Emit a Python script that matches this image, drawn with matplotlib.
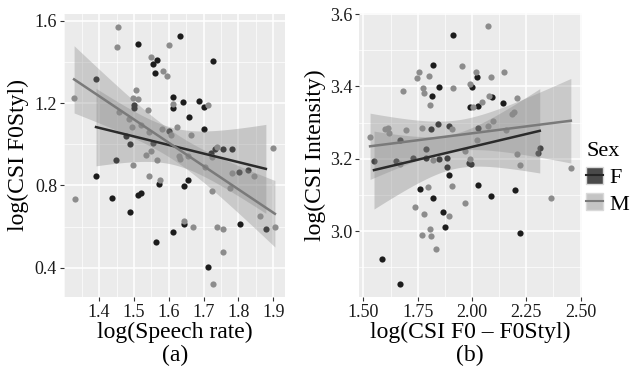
import numpy as np
import matplotlib.pyplot as plt
from matplotlib.patches import Patch
from matplotlib.lines import Line2D
from matplotlib.ticker import MultipleLocator

plt.rcParams['font.family'] = ['Liberation Serif', 'DejaVu Serif']

# panel (a): log(Speech rate) vs log(CSI F0Styl)
a_f_x = [1.633, 1.511, 1.727, 1.565, 1.554, 1.560, 1.391, 1.611, 1.642, 1.688, 1.700, 1.611, 1.499, 1.499,
         1.657, 1.701, 1.601, 1.477, 1.490, 1.556, 1.449, 1.391, 1.732, 1.757, 1.782, 1.721, 1.803, 1.827,
         1.572, 1.656, 1.643, 1.438, 1.512, 1.520, 1.489, 1.644, 1.613, 1.804, 1.879, 1.562, 1.713]
a_f_y = [1.527, 1.487, 1.406, 1.409, 1.388, 1.346, 1.317, 1.229, 1.205, 1.211, 1.180, 1.174, 1.190, 1.174,
         1.134, 1.075, 1.064, 1.038, 0.999, 1.007, 0.921, 0.845, 0.977, 0.977, 0.977, 0.955, 0.863, 0.873,
         0.809, 0.824, 0.795, 0.740, 0.754, 0.761, 0.669, 0.610, 0.575, 0.610, 0.589, 0.523, 0.404]
a_m_x = [1.455, 1.450, 1.601, 1.548, 1.584, 1.594, 1.328, 1.507, 1.496, 1.513, 1.613, 1.541, 1.457, 1.487,
         1.493, 1.520, 1.543, 1.581, 1.623, 1.606, 1.663, 1.714, 1.550, 1.535, 1.565, 1.497, 1.542, 1.576,
         1.628, 1.632, 1.655, 1.704, 1.725, 1.738, 1.723, 1.777, 1.783, 1.844, 1.861, 1.905, 1.900, 1.331,
         1.645, 1.671, 1.738, 1.757, 1.756, 1.727]
a_m_y = [1.571, 1.474, 1.483, 1.422, 1.357, 1.331, 1.224, 1.266, 1.224, 1.219, 1.197, 1.166, 1.156, 1.122,
         1.082, 1.093, 1.061, 1.074, 1.085, 1.045, 1.043, 1.190, 0.968, 0.949, 0.921, 0.900, 0.847, 0.824,
         0.942, 0.929, 0.944, 0.889, 0.939, 0.985, 0.774, 0.786, 0.860, 0.844, 0.651, 0.597, 0.983, 0.733,
         0.626, 0.599, 0.597, 0.589, 0.476, 0.319]

# panel (b): log(CSI F0 - F0Styl) vs log(CSI Intensity)
b_f_x = [1.911, 1.822, 2.025, 1.847, 1.999, 1.818, 2.094, 2.144, 1.993, 2.030, 1.813, 1.844, 1.893, 2.027,
         1.787, 1.729, 1.648, 1.549, 1.789, 1.848, 1.885, 1.883, 1.892, 1.987, 1.996, 2.027, 1.763, 1.822,
         2.088, 2.199, 1.866, 1.877, 2.223, 1.584, 1.670, 2.304, 2.312, 1.671]
b_f_y = [3.542, 3.459, 3.425, 3.399, 3.399, 3.374, 3.371, 3.355, 3.343, 3.345, 3.283, 3.297, 3.291, 3.285,
         3.227, 3.202, 3.195, 3.194, 3.203, 3.200, 3.203, 3.177, 3.155, 3.188, 3.185, 3.128, 3.118, 3.092,
         3.097, 3.113, 3.052, 3.011, 2.996, 2.924, 2.854, 3.217, 3.230, 3.251]
b_m_x = [2.076, 1.953, 1.757, 1.749, 1.802, 1.776, 1.778, 1.683, 1.807, 1.912, 1.992, 2.019, 2.089, 2.149,
         2.005, 2.048, 2.077, 2.207, 2.184, 2.193, 2.098, 2.074, 2.156, 1.909, 1.770, 1.613, 1.598, 1.619,
         1.531, 1.696, 2.025, 1.970, 1.992, 1.671, 1.819, 2.205, 2.223, 1.906, 1.796, 1.970, 1.738, 1.778,
         1.895, 1.807, 1.772, 1.810, 1.833, 2.364, 2.455]
b_m_y = [3.566, 3.456, 3.439, 3.422, 3.428, 3.396, 3.381, 3.387, 3.348, 3.396, 3.408, 3.439, 3.427, 3.439,
         3.343, 3.357, 3.373, 3.368, 3.325, 3.329, 3.304, 3.290, 3.279, 3.283, 3.286, 3.284, 3.282, 3.271,
         3.259, 3.281, 3.252, 3.222, 3.200, 3.185, 3.198, 3.214, 3.182, 3.124, 3.121, 3.077, 3.066, 3.047,
         3.042, 3.006, 2.990, 2.987, 2.950, 3.092, 3.175]

point_col = {'F': '#1c1c1c', 'M': '#8c8c8c'}
line_col = {'F': '#2b2b2b', 'M': '#7a7a7a'}
band_col = {'F': '#868686', 'M': '#8e8e8e'}


def lm_band(x, y, n_pts=80):
    # linear fit with 95% confidence band, like geom_smooth(method = "lm")
    x = np.asarray(x); y = np.asarray(y)
    n = len(x)
    b, a = np.polyfit(x, y, 1)
    resid = y - (a + b*x)
    s = np.sqrt(np.sum(resid**2)/(n - 2))
    sxx = np.sum((x - x.mean())**2)
    df = n - 2
    z = 1.959964
    t = z + (z**3 + z)/(4*df) + (5*z**5 + 16*z**3 + 3*z)/(96*df**2)
    xx = np.linspace(x.min(), x.max(), n_pts)
    yy = a + b*xx
    se = s*np.sqrt(1.0/n + (xx - x.mean())**2/sxx)
    return xx, yy, yy - t*se, yy + t*se


def panel(ax, fx, fy, mx, my):
    ax.set_facecolor('#ebebeb')
    for sp in ax.spines.values():
        sp.set_visible(False)
    ax.grid(which='major', color='white', lw=1.1, zorder=0)
    ax.grid(which='minor', color='white', lw=0.5, zorder=0)
    ax.set_axisbelow(True)
    ax.scatter(fx, fy, s=20, color=point_col['F'], lw=0, zorder=2)
    ax.scatter(mx, my, s=20, color=point_col['M'], lw=0, zorder=2)
    for key, x, y in (('F', fx, fy), ('M', mx, my)):
        xx, yy, lo, hi = lm_band(x, y)
        ax.fill_between(xx, lo, hi, color=band_col[key], alpha=0.36, lw=0, zorder=3)
        ax.plot(xx, yy, color=line_col[key], lw=1.8, zorder=4)
    ax.tick_params(which='major', length=3, width=0.8, color='#333333', labelsize=13,
                   labelcolor='#1a1a1a', pad=2)
    ax.tick_params(which='minor', length=0)


fig = plt.figure(figsize=(6.33, 3.77), dpi=100)
ax1 = fig.add_axes([64/633, 80.3/377, 221/633, 282.7/377])
ax2 = fig.add_axes([359/633, 80.3/377, 222.7/633, 283.7/377])

panel(ax1, a_f_x, a_f_y, a_m_x, a_m_y)
ax1.set_xlim(1.299, 1.934)
ax1.set_ylim(0.259, 1.633)
ax1.xaxis.set_minor_locator(MultipleLocator(0.05))
ax1.yaxis.set_minor_locator(MultipleLocator(0.2))
ax1.set_xticks([1.4, 1.5, 1.6, 1.7, 1.8, 1.9])
ax1.set_yticks([0.4, 0.8, 1.2, 1.6])
ax1.set_xlabel('log(Speech rate)', fontsize=17, labelpad=1)
ax1.set_ylabel('log(CSI F0Styl)', fontsize=17, labelpad=4)

panel(ax2, b_f_x, b_f_y, b_m_x, b_m_y)
ax2.set_xlim(1.48, 2.505)
ax2.set_ylim(2.819, 3.603)
ax2.xaxis.set_minor_locator(MultipleLocator(0.125))
ax2.yaxis.set_minor_locator(MultipleLocator(0.1))
ax2.set_xticks([1.5, 1.75, 2.0, 2.25, 2.5])
ax2.set_xticklabels(['1.50', '1.75', '2.00', '2.25', '2.50'])
ax2.set_yticks([3.0, 3.2, 3.4, 3.6])
ax2.set_xlabel('log(CSI F0 \u2013 F0Styl)', fontsize=17, labelpad=1)
ax2.set_ylabel('log(CSI Intensity)', fontsize=17, labelpad=3)

fig.text(175/633, 1 - 355/377, '(a)', fontsize=17, ha='center', va='center')
fig.text(470/633, 1 - 355/377, '(b)', fontsize=17, ha='center', va='center')

handles = [
    (Patch(facecolor='#4a4a4a', edgecolor='#d9d9d9'), Line2D([], [], color='#262626', lw=1.5)),
    (Patch(facecolor='#c4c4c4', edgecolor='#d9d9d9'), Line2D([], [], color='#7a7a7a', lw=1.5)),
]
leg = fig.legend(handles, ['F', 'M'], title='Sex', loc='upper left',
                 bbox_to_anchor=(586/633, 1 - 142/377), frameon=False, fontsize=16,
                 title_fontsize=16, handlelength=0.75, handleheight=0.8,
                 handletextpad=0.3, labelspacing=0.25, borderaxespad=0, borderpad=0)
leg._legend_box.align = 'left'

fig.savefig('out.png', dpi=100)
